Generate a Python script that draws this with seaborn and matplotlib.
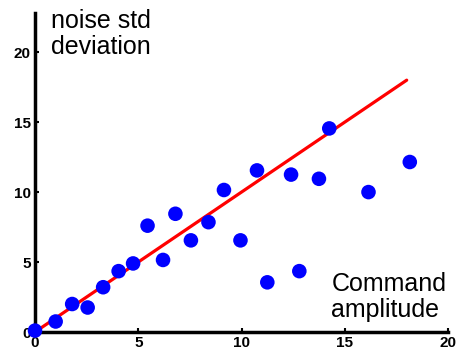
import numpy as np
import pandas as pd
import seaborn as sns
import matplotlib
matplotlib.use("Agg")
import matplotlib.pyplot as plt

# measured points: command amplitude vs noise std deviation
amplitude = [0.0, 1.0, 1.8, 2.55, 3.3, 4.05, 4.75, 5.45, 6.2, 6.8, 7.55, 8.4, 9.15,
             9.95, 10.75, 11.25, 12.4, 12.8, 13.75, 14.25, 16.15, 18.15]
noise_sd = [0.1, 0.75, 2.0, 1.75, 3.2, 4.35, 4.9, 7.6, 5.15, 8.45, 6.55, 7.85, 10.15,
            6.55, 11.55, 3.55, 11.25, 4.35, 10.95, 14.55, 10.0, 12.15]

# reference line (slope 1)
line_x = [0, 18]
line_y = [0, 18]

df = pd.DataFrame({'amp': amplitude, 'sd': noise_sd})
line_df = pd.DataFrame({'x': line_x, 'y': line_y})

sns.set_style('ticks')
plt.rcParams['font.family'] = ['Liberation Sans', 'DejaVu Sans']

fig = plt.figure(figsize=(4.57, 3.57), dpi=100)
ax = fig.add_axes([35 / 457, 25 / 357, 413 / 457, 319 / 357])

sns.lineplot(data=line_df, x='x', y='y', color='#ff0000', linewidth=2.3, ax=ax, zorder=2)
sns.scatterplot(data=df, x='amp', y='sd', color='#0000ff', s=110, edgecolor='none',
                ax=ax, zorder=3, clip_on=False)

ax.set_xlim(0, 20)
ax.set_ylim(0, 22.8)
ax.set_xticks([0, 5, 10, 15, 20])
ax.set_yticks([0, 5, 10, 15, 20])
ax.set_xlabel('')
ax.set_ylabel('')
sns.despine(ax=ax)
for s in ['left', 'bottom']:
    ax.spines[s].set_linewidth(2.5)
    ax.spines[s].set_color('black')
ax.tick_params(direction='in', width=1.5, length=3, labelsize=11, pad=3,
               colors='black')
for lbl in ax.get_xticklabels() + ax.get_yticklabels():
    lbl.set_fontweight('bold')

ax.text(0.78, 23.1, 'noise std\ndeviation', fontsize=18, va='top', ha='left',
        linespacing=1.1, color='black')
ax.text(14.35, 0.7, 'Command\namplitude', fontsize=18, va='bottom', ha='left',
        linespacing=1.1, color='black')

fig.savefig('out.png', dpi=100)
